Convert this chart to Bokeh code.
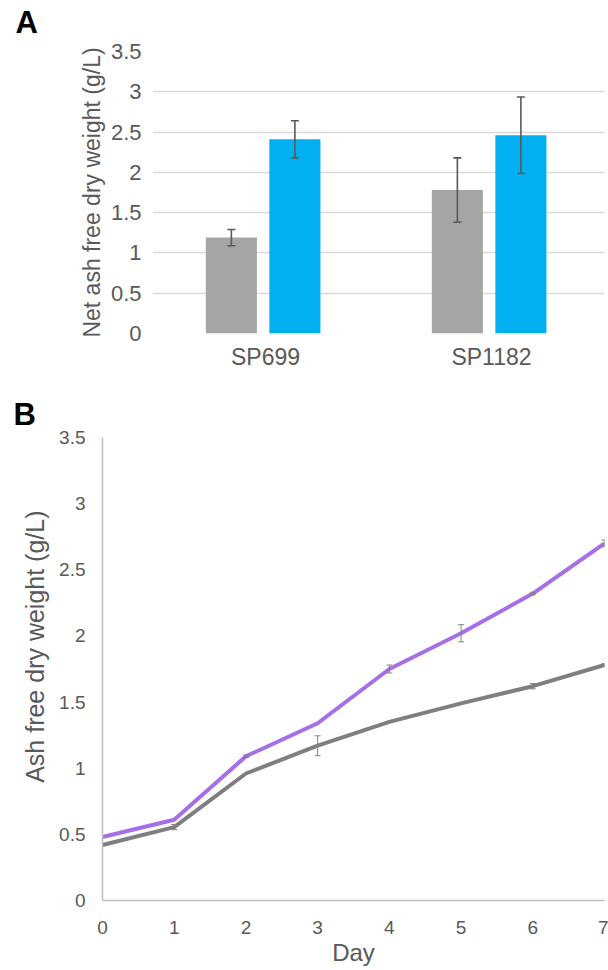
from bokeh.plotting import figure
from bokeh.models import (ColumnDataSource, Whisker, TeeHead, Title, FactorRange,
                          Range1d, FixedTicker)
from bokeh.core.properties import value
from bokeh.transform import dodge
from bokeh.layouts import column
from bokeh.embed import file_html
from bokeh.resources import INLINE

# ---------------- data: panel A ----------------
strains = ["SP699", "SP1182"]
grey_bar_vals = [1.19, 1.78]
grey_bar_err = [0.10, 0.40]
blue_bar_vals = [2.41, 2.46]
blue_bar_err = [0.23, 0.475]
a_ticks = [0, 0.5, 1, 1.5, 2, 2.5, 3, 3.5]
a_tick_labels = ["0", "0.5", "1", "1.5", "2", "2.5", "3", "3.5"]

# ---------------- data: panel B ----------------
days = [0, 1, 2, 3, 4, 5, 6, 7]
purple_vals = [0.48, 0.61, 1.09, 1.34, 1.75, 2.02, 2.32, 2.70]
purple_err = [0, 0, 0.01, 0, 0.03, 0.065, 0.01, 0.025]
grey_line_vals = [0.42, 0.555, 0.96, 1.17, 1.35, 1.49, 1.62, 1.78]
grey_line_err = [0, 0.02, 0, 0.075, 0, 0, 0.02, 0.01]
b_ticks = [0, 0.5, 1, 1.5, 2, 2.5, 3, 3.5]
b_tick_labels = ["0", "0.5", "1", "1.5", "2", "2.5", "3", "3.5"]

panel_letters = ["A", "B"]

FONT = "Liberation Sans"
TXT = "#595959"
GREY_BAR = "#a5a5a5"
BLUE_BAR = "#00b0f0"
PURPLE = "#a66fe8"
GREY_LINE = "#7f7f7f"

# ============ strip with the panel letter "A" ============
STRIP_H = 39
pL = figure(width=608, height=STRIP_H, x_range=Range1d(0, 608),
            y_range=Range1d(0, STRIP_H), output_backend="svg", toolbar_location=None,
            x_axis_location=None, y_axis_location=None,
            min_border_left=0, min_border_right=0, min_border_top=0, min_border_bottom=0)
pL.frame_align = False
pL.outline_line_color = None
pL.grid.grid_line_color = None
pL.text(x=[15], y=[STRIP_H - 22], text=[panel_letters[0]], text_font=value(FONT),
        text_font_size="31px", text_font_style="bold", text_color="black",
        text_baseline="middle", text_align="left")

# ================= Panel A =================
pA = figure(width=608, height=378 - STRIP_H, x_range=FactorRange(*strains),
            y_range=Range1d(0, 3.5), output_backend="svg", toolbar_location=None,
            min_border_left=152, min_border_right=4, min_border_top=51 - STRIP_H,
            min_border_bottom=45)
pA.frame_align = False
pA.outline_line_color = None

srcA = ColumnDataSource(dict(
    strain=strains,
    grey=grey_bar_vals,
    blue=blue_bar_vals,
    grey_lo=[v - e for v, e in zip(grey_bar_vals, grey_bar_err)],
    grey_hi=[v + e for v, e in zip(grey_bar_vals, grey_bar_err)],
    blue_lo=[v - e for v, e in zip(blue_bar_vals, blue_bar_err)],
    blue_hi=[v + e for v, e in zip(blue_bar_vals, blue_bar_err)],
))

G_OFF, B_OFF, BW = -0.151, 0.13, 0.226
pA.vbar(x=dodge("strain", G_OFF, range=pA.x_range), top="grey", width=BW,
        source=srcA, fill_color=GREY_BAR, line_color=None)
pA.vbar(x=dodge("strain", B_OFF, range=pA.x_range), top="blue", width=BW,
        source=srcA, fill_color=BLUE_BAR, line_color=None)

for off, lo, hi in [(G_OFF, "grey_lo", "grey_hi"), (B_OFF, "blue_lo", "blue_hi")]:
    w = Whisker(base=dodge("strain", off, range=pA.x_range), lower=lo, upper=hi,
                source=srcA, line_color="#595959", line_width=1.6, level="overlay",
                upper_head=TeeHead(size=8, line_color="#595959", line_width=1.6),
                lower_head=TeeHead(size=8, line_color="#595959", line_width=1.6))
    pA.add_layout(w)

pA.xgrid.grid_line_color = None
pA.ygrid.grid_line_color = "#d9d9d9"
pA.ygrid.grid_line_width = 1.5

pA.yaxis.ticker = FixedTicker(ticks=a_ticks)
pA.yaxis.major_label_overrides = {t: l for t, l in zip(a_ticks, a_tick_labels)}
for ax in (pA.xaxis[0], pA.yaxis[0]):
    ax.axis_line_color = None
    ax.major_tick_line_color = None
    ax.minor_tick_line_color = None
    ax.major_label_text_font = FONT
    ax.major_label_text_color = TXT
pA.yaxis.major_label_text_font_size = "22px"
pA.xaxis.major_label_text_font_size = "23px"
pA.yaxis.major_label_standoff = 5
pA.xaxis.major_label_standoff = 4
pA.yaxis.axis_label = "Net ash free dry weight (g/L)"
pA.yaxis.axis_label_text_font = FONT
pA.yaxis.axis_label_text_font_size = "23px"
pA.yaxis.axis_label_text_font_style = "normal"
pA.yaxis.axis_label_text_color = TXT
pA.yaxis.axis_label_standoff = 3

# ================= Panel B =================
pB = figure(width=608, height=592, x_range=Range1d(0, 7), y_range=Range1d(0, 3.5),
            output_backend="svg", toolbar_location=None,
            min_border_left=102, min_border_right=4, min_border_top=59,
            min_border_bottom=70)
pB.frame_align = False
pB.outline_line_color = None
pB.xgrid.grid_line_color = None
pB.ygrid.grid_line_color = None

pB.title.text = panel_letters[1]
pB.title.align = "left"
pB.title.offset = 13 - 102
pB.title.standoff = 11
pB.title.text_font = FONT
pB.title.text_font_size = "31px"
pB.title.text_font_style = "bold"
pB.title.text_color = "black"

pB.line(days, grey_line_vals, line_color=GREY_LINE, line_width=4)
pB.line(days, purple_vals, line_color=PURPLE, line_width=4)

for vals, errs in [(grey_line_vals, grey_line_err), (purple_vals, purple_err)]:
    idx = [i for i, e in enumerate(errs) if e > 0]
    s = ColumnDataSource(dict(
        x=[days[i] for i in idx],
        lo=[vals[i] - errs[i] for i in idx],
        hi=[vals[i] + errs[i] for i in idx],
    ))
    pB.add_layout(Whisker(base="x", lower="lo", upper="hi", source=s,
                          line_color="#808080", line_width=1, level="overlay",
                          upper_head=TeeHead(size=6, line_color="#808080", line_width=1),
                          lower_head=TeeHead(size=6, line_color="#808080", line_width=1)))

pB.xaxis.ticker = FixedTicker(ticks=days)
pB.yaxis.ticker = FixedTicker(ticks=b_ticks)
pB.yaxis.major_label_overrides = {t: l for t, l in zip(b_ticks, b_tick_labels)}
for ax in (pB.xaxis[0], pB.yaxis[0]):
    ax.axis_line_color = "#bfbfbf"
    ax.axis_line_width = 1.5
    ax.major_tick_line_color = None
    ax.minor_tick_line_color = None
    ax.major_label_text_font = FONT
    ax.major_label_text_font_size = "19px"
    ax.major_label_text_color = TXT
    ax.axis_label_text_font = FONT
    ax.axis_label_text_font_style = "normal"
    ax.axis_label_text_color = TXT
pB.yaxis.major_label_standoff = 11
pB.xaxis.major_label_standoff = 14
pB.xaxis.axis_label = "Day"
pB.xaxis.axis_label_text_font_size = "24px"
pB.xaxis.axis_label_standoff = 2

# y-axis title of panel B, placed along the left side (sits slightly above centre)
ylabB = Title(text="Ash free dry weight (g/L)", align="right", offset=73, standoff=16,
              text_font=FONT, text_font_size="25px", text_font_style="normal",
              text_color=TXT)
pB.add_layout(ylabB, "left")

layout = column(pL, pA, pB)
open("out.html", "w").write(file_html(layout, INLINE))
